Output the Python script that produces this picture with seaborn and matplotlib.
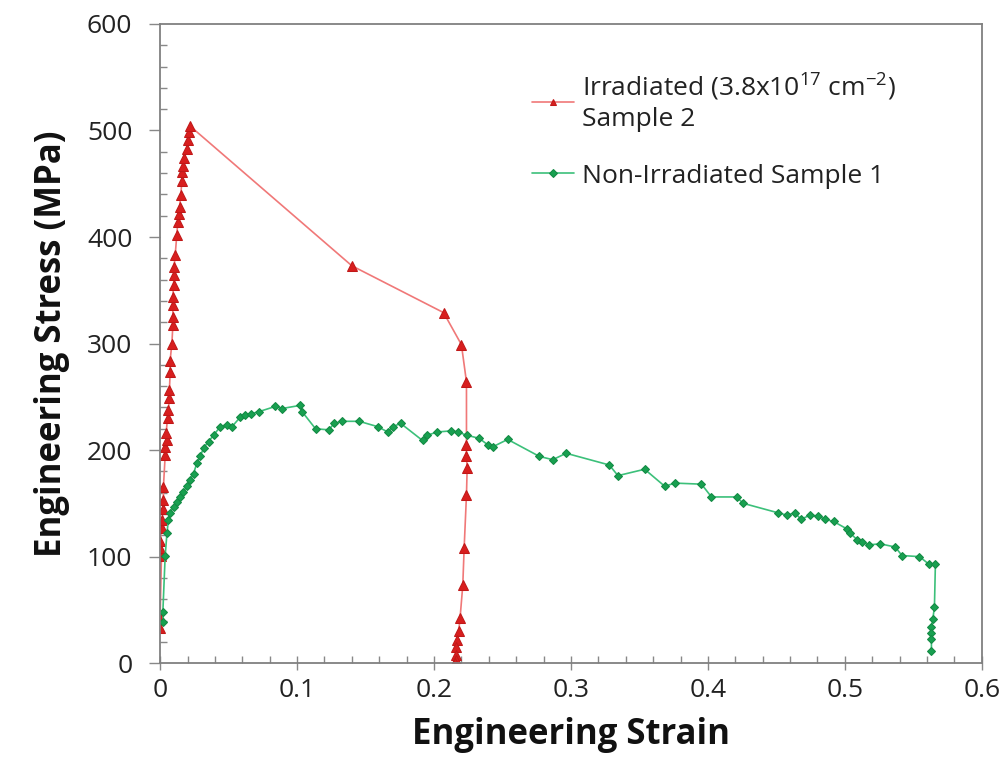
import numpy as np
import pandas as pd
import seaborn as sns
import matplotlib.pyplot as plt
from matplotlib.ticker import MultipleLocator

# ------------------------
# Data
# ------------------------
irr_strain = [0.0, 0.0, 0.001, 0.0, 0.0, 0.0012, 0.0012, 0.0024, 0.0024, 0.0024,
              0.0037, 0.0037, 0.0049, 0.0044, 0.0054, 0.006, 0.0068, 0.0068, 0.0073, 0.0073,
              0.0086, 0.0093, 0.0093, 0.0093, 0.0093, 0.0098, 0.0102, 0.0102, 0.011, 0.0122,
              0.0129, 0.0137, 0.0142, 0.0151, 0.0159, 0.0163, 0.017, 0.0178, 0.0195, 0.0202,
              0.021, 0.022,
              0.140, 0.207, 0.220, 0.2237, 0.2237, 0.2237, 0.2242, 0.2237, 0.222, 0.221,
              0.219, 0.218, 0.217, 0.216, 0.216, 0.216, 0.2155]
irr_stress = [33, 43, 101, 108, 115, 127, 134, 145, 153, 165,
              195, 203, 209, 216, 230, 238, 249, 256, 273, 284,
              300, 317, 325, 336, 344, 355, 364, 372, 383, 402,
              414, 422, 428, 439, 453, 461, 467, 474, 483, 491,
              499, 504,
              373, 329, 299, 264, 205, 194, 183, 158, 108, 73,
              42, 30, 22, 15, 8, 3, 0]

non_strain = [0.0024, 0.002, 0.0037, 0.005, 0.006, 0.0073, 0.0098, 0.0122, 0.0146, 0.017,
              0.0195, 0.022, 0.0244, 0.0269, 0.0293, 0.0317, 0.0354, 0.039, 0.044, 0.049,
              0.0525, 0.0586, 0.0622, 0.066, 0.072, 0.0842, 0.089, 0.1025, 0.1037, 0.1135,
              0.1232, 0.127, 0.133, 0.1454, 0.1588, 0.1662, 0.1698, 0.1757, 0.1916, 0.1952,
              0.2025, 0.2123, 0.2172, 0.2238, 0.233, 0.2392, 0.2428, 0.2538, 0.277, 0.2867,
              0.2965, 0.328, 0.3343, 0.3538, 0.3685, 0.3758, 0.3953, 0.4026, 0.4209, 0.4258,
              0.4515, 0.4575, 0.4636, 0.468, 0.4746, 0.4807, 0.4856, 0.4917, 0.5015, 0.5039,
              0.5088, 0.5124, 0.5173, 0.5258, 0.5368, 0.5417, 0.5544, 0.5613, 0.5661, 0.5654,
              0.5642, 0.5632, 0.5632, 0.5632, 0.5632]
non_stress = [39, 48, 101, 122, 134, 141, 147, 151, 156, 161,
              166, 172, 178, 188, 194, 202, 208, 214, 222, 224,
              222, 231, 233, 234, 236, 241, 239, 242, 236, 220,
              219, 225, 227, 227, 222, 217, 222, 225, 209, 214,
              217, 218, 217, 214, 211, 205, 203, 210, 194, 191,
              197, 186, 176, 182, 166, 169, 168, 156, 156, 150,
              141, 139, 141, 135, 139, 138, 135, 133, 126, 122,
              116, 114, 111, 112, 109, 101, 100, 93, 93, 53,
              41, 34, 28, 23, 11]

x_ticks = [0, 0.1, 0.2, 0.3, 0.4, 0.5, 0.6]
x_ticklabels = ['0', '0.1', '0.2', '0.3', '0.4', '0.5', '0.6']

IRR_LABEL = 'Irradiated (3.8x10$^{17}$ cm$^{-2}$)\nSample 2'
NON_LABEL = 'Non-Irradiated Sample 1'

irr = pd.DataFrame({'strain': irr_strain, 'stress': irr_stress})
non = pd.DataFrame({'strain': non_strain, 'stress': non_stress})

# ------------------------
# Plotting
# ------------------------
sns.set_style('white')
plt.rcParams['font.family'] = ['Open Sans', 'DejaVu Sans']
plt.rcParams['mathtext.fontset'] = 'custom'
plt.rcParams['mathtext.rm'] = 'Open Sans'
plt.rcParams['mathtext.it'] = 'Open Sans'

fig = plt.figure(figsize=(10.07, 7.72), dpi=100)
ax = fig.add_axes([0.159, 0.141, 0.816, 0.828])

sns.lineplot(data=irr, x='strain', y='stress', sort=False, estimator=None, ax=ax,
             color='#f07878', linewidth=1.2, marker='^', markersize=7,
             markerfacecolor='#d81e1e', markeredgecolor='#c01818', label=IRR_LABEL)
sns.lineplot(data=non, x='strain', y='stress', sort=False, estimator=None, ax=ax,
             color='#3cc07a', linewidth=1.2, marker='D', markersize=4.5,
             markerfacecolor='#18a050', markeredgecolor='#138a44', label=NON_LABEL)

# Axis settings
ax.set_xlim(0, 0.6)
ax.set_ylim(0, 600)
ax.set_xticks(x_ticks)
ax.set_xticklabels(x_ticklabels)
ax.xaxis.set_minor_locator(MultipleLocator(0.02))
ax.yaxis.set_major_locator(MultipleLocator(100))
ax.yaxis.set_minor_locator(MultipleLocator(20))

ax.tick_params(axis='x', which='major', direction='inout', length=10, width=1,
               color='#888888', labelsize=19, labelcolor='#222222', pad=6)
ax.tick_params(axis='x', which='minor', direction='in', length=5, width=1, color='#888888')
ax.tick_params(axis='y', which='major', direction='out', length=8, width=1,
               color='#888888', labelsize=19, labelcolor='#222222', pad=12)
ax.tick_params(axis='y', which='minor', direction='in', length=5, width=1, color='#888888')
ax.tick_params(which='both', bottom=True, left=True)

for side in ['top', 'right', 'bottom', 'left']:
    ax.spines[side].set_visible(True)
    ax.spines[side].set_color('#808080')
    ax.spines[side].set_linewidth(1.3)

ax.set_xlabel('Engineering Strain', fontsize=25, fontweight='bold', labelpad=10,
              color='#111111')
ax.set_ylabel('Engineering Stress (MPa)', fontsize=25, fontweight='bold', labelpad=12,
              color='#111111')

leg = ax.legend(loc='upper left', bbox_to_anchor=(0.424, 0.962), frameon=False,
                fontsize=19, handlelength=1.6, handletextpad=0.3, labelspacing=1.2)
for h in leg.legend_handles:
    h.set_markersize(4)
for t in leg.get_texts():
    t.set_color('#222222')

plt.savefig('out.png', dpi=100)
